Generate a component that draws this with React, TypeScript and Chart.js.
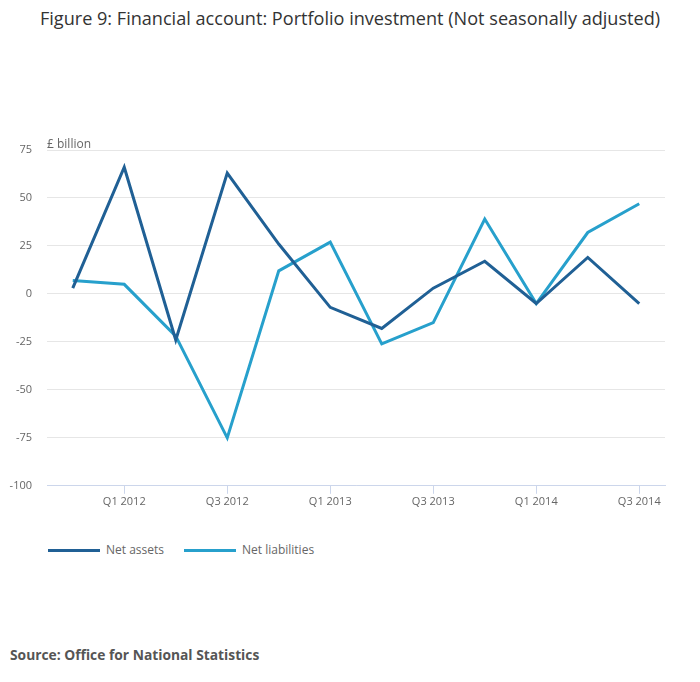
import { useEffect, useRef } from "react";
import { Chart, registerables, ChartConfiguration, Plugin } from "chart.js";

Chart.register(...registerables);

const quarters = [
  "Q4 2011", "Q1 2012", "Q2 2012", "Q3 2012", "Q4 2012", "Q1 2013",
  "Q2 2013", "Q3 2013", "Q4 2013", "Q1 2014", "Q2 2014", "Q3 2014",
];
const netAssets = [3, 66, -24, 63, 26, -7, -18, 3, 17, -5, 19, -5];
const netLiabilities = [7, 5, -22, -75, 12, 27, -26, -15, 39, -5, 32, 47];
const yTicks = [-100, -75, -50, -25, 0, 25, 50, 75];

const DARK = "#206095";
const LIGHT = "#27a0cc";
const FONT = "'Open Sans', sans-serif";

// "£ billion" label sits just above the top gridline
const unitLabel: Plugin<"line"> = {
  id: "unitLabel",
  afterDraw(chart) {
    const { ctx, chartArea } = chart;
    ctx.save();
    ctx.font = `12px ${FONT}`;
    ctx.fillStyle = "#666";
    ctx.textAlign = "left";
    ctx.textBaseline = "bottom";
    ctx.fillText("£ billion", chartArea.left, chartArea.top + 1);
    ctx.restore();
  },
};

function PortfolioChart() {
  const canvasRef = useRef<HTMLCanvasElement | null>(null);

  useEffect(() => {
    if (!canvasRef.current) return;

    const config: ChartConfiguration<"line"> = {
      type: "line",
      data: {
        labels: quarters,
        datasets: [
          {
            label: "Net assets",
            data: netAssets,
            borderColor: DARK,
            backgroundColor: DARK,
            borderWidth: 3,
            pointRadius: 0,
            tension: 0,
          },
          {
            label: "Net liabilities",
            data: netLiabilities,
            borderColor: LIGHT,
            backgroundColor: LIGHT,
            borderWidth: 3,
            pointRadius: 0,
            tension: 0,
          },
        ],
      },
      options: {
        responsive: true,
        maintainAspectRatio: false,
        animation: false,
        layout: { padding: { top: 29, left: 9, right: 35, bottom: 13 } },
        plugins: {
          legend: { display: false },
          tooltip: { enabled: false },
        },
        scales: {
          x: {
            offset: true,
            border: { color: "#ccd6eb", width: 1 },
            grid: {
              offset: false,
              drawOnChartArea: false,
              tickLength: 8,
              color: (c) => (c.index % 2 === 1 ? "#ccd6eb" : "transparent"),
            },
            ticks: {
              autoSkip: false,
              maxRotation: 0,
              padding: 1,
              color: "#666",
              font: { family: FONT, size: 11 },
              callback: (_v, i) => (i % 2 === 1 ? quarters[i] : ""),
            },
          },
          y: {
            min: yTicks[0],
            max: yTicks[yTicks.length - 1],
            border: { display: false },
            grid: { color: "#e6e6e6", drawTicks: false },
            afterBuildTicks: (axis) => {
              axis.ticks = yTicks.map((v) => ({ value: v }));
            },
            afterFit: (axis) => {
              axis.width = 38;
            },
            ticks: {
              padding: 15,
              color: "#666",
              font: { family: FONT, size: 11 },
            },
          },
        },
      },
      plugins: [unitLabel],
    };

    const chart = new Chart(canvasRef.current, config);
    return () => {
      chart.destroy();
    };
  }, []);

  return (
    <div style={{ position: "absolute", left: 0, top: 121, width: 700, height: 401 }}>
      <canvas ref={canvasRef}></canvas>
    </div>
  );
}

function LegendItem({ color, label }: { color: string; label: string }) {
  return (
    <span style={{ display: "inline-flex", alignItems: "center", marginRight: 20 }}>
      <span style={{ display: "inline-block", width: 52, height: 3, background: color, marginRight: 6 }} />
      <span>{label}</span>
    </span>
  );
}

export default function App() {
  return (
    <div
      style={{
        position: "absolute",
        left: 0,
        top: 0,
        width: 700,
        height: 682,
        background: "#fff",
        fontFamily: FONT,
      }}
    >
      <div
        style={{
          position: "absolute",
          top: 6,
          left: 0,
          width: 700,
          textAlign: "center",
          fontSize: 18.1,
          lineHeight: "24px",
          color: "#333",
        }}
      >
        Figure 9: Financial account: Portfolio investment (Not seasonally adjusted)
      </div>
      <PortfolioChart />
      <div
        style={{
          position: "absolute",
          top: 542,
          left: 48,
          fontSize: 12,
          lineHeight: "16px",
          color: "#666",
          display: "flex",
        }}
      >
        <LegendItem color={DARK} label="Net assets" />
        <LegendItem color={LIGHT} label="Net liabilities" />
      </div>
      <div
        style={{
          position: "absolute",
          top: 645,
          left: 10,
          fontSize: 13.8,
          lineHeight: "20px",
          fontWeight: 700,
          color: "#555",
        }}
      >
        Source: Office for National Statistics
      </div>
    </div>
  );
}
